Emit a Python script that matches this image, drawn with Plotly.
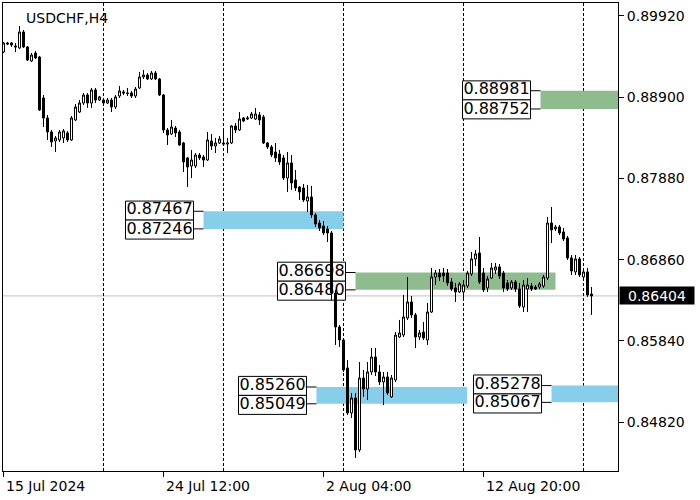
import plotly.graph_objects as go

# ---------------- data ----------------
bars = list(range(148))  # H4 bars, bar 0 = 15 Jul 2024

opens = [0.89468, 0.89581, 0.89581, 0.89543, 0.89518, 0.89719, 0.89531, 0.89355, 0.89455, 0.89405,
         0.88890, 0.88639, 0.88463, 0.88350, 0.88363, 0.88388, 0.88451, 0.88363, 0.88614, 0.88714,
         0.88827, 0.88928, 0.88827, 0.88991, 0.88865, 0.88865, 0.88827, 0.88865, 0.88777, 0.88915,
         0.88966, 0.88953, 0.88953, 0.88915, 0.89016, 0.89154, 0.89179, 0.89129, 0.89204, 0.89129,
         0.88928, 0.88488, 0.88438, 0.88513, 0.88463, 0.88325, 0.88137, 0.88036, 0.88036, 0.88174,
         0.88149, 0.88111, 0.88350, 0.88287, 0.88325, 0.88325, 0.88312, 0.88325, 0.88538, 0.88488,
         0.88639, 0.88626, 0.88639, 0.88626, 0.88677, 0.88652, 0.88325, 0.88275, 0.88212, 0.88187,
         0.88137, 0.87885, 0.88074, 0.87860, 0.87772, 0.87760, 0.87596, 0.87647, 0.87421, 0.87320,
         0.87282, 0.87245, 0.87195, 0.86441, 0.86014, 0.85851, 0.85499, 0.84934, 0.85122, 0.84469,
         0.85373, 0.85235, 0.85449, 0.85637, 0.85449, 0.85323, 0.85386, 0.85135, 0.85348, 0.85888,
         0.85913, 0.86127, 0.86328, 0.86165, 0.85888, 0.85951, 0.85851, 0.86202, 0.86642, 0.86692,
         0.86692, 0.86692, 0.86579, 0.86504, 0.86454, 0.86454, 0.86529, 0.86680, 0.86868, 0.86943,
         0.86692, 0.86504, 0.86629, 0.86730, 0.86768, 0.86692, 0.86567, 0.86504, 0.86579, 0.86491,
         0.86265, 0.86491, 0.86529, 0.86516, 0.86516, 0.86529, 0.86629, 0.87320, 0.87245, 0.87270,
         0.87207, 0.87132, 0.86881, 0.86705, 0.86868, 0.86642, 0.86705, 0.86428]

highs = [0.89594, 0.89594, 0.89594, 0.89581, 0.89794, 0.89744, 0.89543, 0.89455, 0.89480, 0.89418,
         0.88928, 0.88677, 0.88488, 0.88413, 0.88488, 0.88501, 0.88476, 0.88664, 0.88815, 0.88865,
         0.88953, 0.88953, 0.89016, 0.89016, 0.88915, 0.88890, 0.88890, 0.88890, 0.88928, 0.89041,
         0.88991, 0.89016, 0.88978, 0.89028, 0.89217, 0.89242, 0.89204, 0.89229, 0.89229, 0.89141,
         0.88940, 0.88513, 0.88614, 0.88538, 0.88488, 0.88338, 0.88149, 0.88237, 0.88199, 0.88199,
         0.88174, 0.88463, 0.88438, 0.88388, 0.88413, 0.88513, 0.88388, 0.88551, 0.88576, 0.88714,
         0.88652, 0.88664, 0.88714, 0.88765, 0.88714, 0.88677, 0.88338, 0.88300, 0.88325, 0.88237,
         0.88174, 0.88212, 0.88174, 0.87986, 0.87785, 0.87810, 0.87797, 0.87785, 0.87446, 0.87358,
         0.87345, 0.87282, 0.87220, 0.86479, 0.86039, 0.85876, 0.85599, 0.85185, 0.85185, 0.85574,
         0.85474, 0.85574, 0.85750, 0.85750, 0.85537, 0.85449, 0.85449, 0.85411, 0.85951, 0.86102,
         0.86416, 0.86642, 0.86403, 0.86190, 0.85976, 0.86077, 0.86315, 0.86755, 0.86730, 0.86742,
         0.86755, 0.86742, 0.86629, 0.86567, 0.86579, 0.86604, 0.86717, 0.86956, 0.86981, 0.87144,
         0.86755, 0.86654, 0.86818, 0.86818, 0.86805, 0.86717, 0.86604, 0.86604, 0.86604, 0.86567,
         0.86604, 0.86629, 0.86567, 0.86541, 0.86579, 0.86667, 0.87396, 0.87521, 0.87295, 0.87295,
         0.87257, 0.87157, 0.86918, 0.86918, 0.86893, 0.86755, 0.86755, 0.86516]

lows = [0.89455, 0.89556, 0.89531, 0.89468, 0.89506, 0.89518, 0.89355, 0.89342, 0.89380, 0.88727,
        0.88526, 0.88363, 0.88275, 0.88212, 0.88338, 0.88325, 0.88338, 0.88350, 0.88601, 0.88702,
        0.88802, 0.88765, 0.88765, 0.88827, 0.88852, 0.88790, 0.88815, 0.88714, 0.88752, 0.88890,
        0.88928, 0.88915, 0.88890, 0.88890, 0.89003, 0.89129, 0.89116, 0.89116, 0.89116, 0.88915,
        0.88451, 0.88300, 0.88425, 0.88400, 0.88287, 0.87961, 0.87772, 0.87885, 0.88011, 0.88111,
        0.88024, 0.88099, 0.88237, 0.88199, 0.88312, 0.88300, 0.88199, 0.88312, 0.88451, 0.88476,
        0.88589, 0.88614, 0.88626, 0.88614, 0.88551, 0.88312, 0.88250, 0.88149, 0.88086, 0.88049,
        0.87860, 0.87710, 0.87735, 0.87722, 0.87609, 0.87584, 0.87458, 0.87383, 0.87270, 0.87220,
        0.87169, 0.87082, 0.86353, 0.85788, 0.85763, 0.85449, 0.84909, 0.84871, 0.84369, 0.84444,
        0.85135, 0.85097, 0.85411, 0.85398, 0.85285, 0.85034, 0.85160, 0.85122, 0.85323, 0.85876,
        0.85888, 0.86102, 0.86127, 0.85750, 0.85851, 0.85851, 0.85788, 0.86190, 0.86541, 0.86592,
        0.86579, 0.86529, 0.86466, 0.86328, 0.86441, 0.86378, 0.86504, 0.86654, 0.86780, 0.86554,
        0.86454, 0.86454, 0.86617, 0.86680, 0.86617, 0.86454, 0.86466, 0.86479, 0.86454, 0.86253,
        0.86202, 0.86202, 0.86466, 0.86479, 0.86491, 0.86504, 0.86604, 0.87069, 0.87220, 0.87169,
        0.87094, 0.86855, 0.86667, 0.86667, 0.86642, 0.86604, 0.86391, 0.86165]

closes = [0.89581, 0.89568, 0.89556, 0.89531, 0.89719, 0.89531, 0.89367, 0.89430, 0.89393, 0.88739,
          0.88639, 0.88463, 0.88338, 0.88388, 0.88463, 0.88476, 0.88363, 0.88639, 0.88777, 0.88827,
          0.88928, 0.88827, 0.88991, 0.88865, 0.88903, 0.88827, 0.88865, 0.88777, 0.88903, 0.88978,
          0.88953, 0.88947, 0.88915, 0.89003, 0.89154, 0.89179, 0.89129, 0.89204, 0.89129, 0.88928,
          0.88488, 0.88425, 0.88526, 0.88451, 0.88300, 0.88086, 0.88024, 0.88111, 0.88174, 0.88137,
          0.88111, 0.88363, 0.88287, 0.88325, 0.88375, 0.88312, 0.88325, 0.88538, 0.88488, 0.88626,
          0.88601, 0.88639, 0.88689, 0.88689, 0.88614, 0.88325, 0.88275, 0.88174, 0.88137, 0.88086,
          0.87885, 0.88074, 0.87823, 0.87760, 0.87710, 0.87609, 0.87647, 0.87421, 0.87308, 0.87257,
          0.87195, 0.87195, 0.86441, 0.86014, 0.85851, 0.85474, 0.84934, 0.85122, 0.84469, 0.85373,
          0.85235, 0.85449, 0.85637, 0.85449, 0.85323, 0.85386, 0.85185, 0.85373, 0.85913, 0.85939,
          0.86140, 0.86328, 0.86165, 0.85888, 0.85939, 0.85876, 0.86202, 0.86642, 0.86692, 0.86642,
          0.86654, 0.86567, 0.86491, 0.86454, 0.86554, 0.86541, 0.86692, 0.86868, 0.86931, 0.86579,
          0.86479, 0.86617, 0.86755, 0.86768, 0.86654, 0.86504, 0.86491, 0.86579, 0.86491, 0.86278,
          0.86541, 0.86541, 0.86491, 0.86491, 0.86554, 0.86642, 0.87320, 0.87232, 0.87270, 0.87195,
          0.87119, 0.86881, 0.86717, 0.86868, 0.86667, 0.86705, 0.86416, 0.86404]

# x-axis labels (bar index -> text)
tick_bars = [0, 40, 80, 120]
tick_labels = ["15 Jul 2024", "24 Jul 12:00", "2 Aug 04:00", "12 Aug 20:00"]
# weekly period separators (bar index of Monday 00:00)
separator_bars = [25, 55, 85, 115, 145]

# y-axis ticks
price_ticks = [0.89920, 0.88900, 0.87880, 0.86860, 0.85840, 0.84820]

# supply / demand zones
zone_high = [0.88981, 0.87467, 0.86698, 0.85260, 0.85278]
zone_low = [0.88752, 0.87246, 0.86480, 0.85049, 0.85067]
zone_start = [134.25, 50.0, 88.0, 78.25, 137.0]
zone_end = [153.75, 85.0, 138.0, 115.9, 153.75]
zone_kind = ["supply", "demand", "supply", "demand", "demand"]

symbol_title = "USDCHF,H4"
last_price = closes[-1]

# ---------------- styling ----------------
FONT = "DejaVu Sans"
ZONE_COLORS = {"supply": "#8fbc8f", "demand": "#87ceeb"}
X_RANGE = [-0.125, 153.625]
Y_RANGE = [0.84205, 0.90083]
PX_PER_BAR = 4.0          # 615 px plot width / 153.75 bars
PRICE_PER_PX = (Y_RANGE[1] - Y_RANGE[0]) / 468.0
GAP_PX, BOX_W, BOX_H = 10, 68, 19

shapes = []
annotations = []

# zones
for hi, lo, x0, x1, kind in zip(zone_high, zone_low, zone_start, zone_end, zone_kind):
    shapes.append(dict(type="rect", xref="x", yref="y", x0=x0, x1=x1, y0=lo, y1=hi,
                       fillcolor=ZONE_COLORS[kind], line=dict(width=0), layer="below"))

# current price line
shapes.append(dict(type="line", xref="paper", yref="y", x0=0, x1=1, y0=last_price, y1=last_price,
                   line=dict(color="#c0c0c0", width=1), layer="below"))

# label boxes + leader lines
lbl_x, lbl_y, lbl_t = [], [], []
for hi, lo, x0 in zip(zone_high, zone_low, zone_start):
    mid = (hi + lo) / 2
    for lvl, (py0, py1), nudge in ((hi, (0, BOX_H), 1.0), (lo, (-BOX_H, 0), -1.0)):
        shapes.append(dict(type="rect", xref="x", yref="y", xsizemode="pixel", ysizemode="pixel",
                           xanchor=x0, yanchor=mid, x0=-(GAP_PX + BOX_W), x1=-GAP_PX, y0=py0, y1=py1,
                           fillcolor="white", line=dict(color="black", width=1), layer="below"))
        shapes.append(dict(type="line", xref="x", yref="y", xsizemode="pixel", xanchor=x0,
                           x0=-GAP_PX, x1=0, y0=lvl, y1=lvl, line=dict(color="black", width=1),
                           layer="below"))
        lbl_x.append(x0 - (GAP_PX + BOX_W / 2) / PX_PER_BAR)
        lbl_y.append(lvl + nudge * PRICE_PER_PX)
        lbl_t.append(f"{lvl:.5f}")

# weekly separators (drawn over zones and boxes, below candles)
for s in separator_bars:
    shapes.append(dict(type="line", xref="x", yref="paper", x0=s, x1=s, y0=0, y1=1,
                       line=dict(color="black", width=1, dash="3px,2px"), layer="below"))

fig = go.Figure()
fig.add_trace(go.Scatter(x=lbl_x, y=lbl_y, text=lbl_t, mode="text", textposition="middle center",
                         textfont=dict(family=FONT, size=16, color="black"), hoverinfo="skip"))
fig.add_trace(go.Candlestick(
    x=bars, open=opens, high=highs, low=lows, close=closes,
    increasing=dict(line=dict(color="black", width=1), fillcolor="white"),
    decreasing=dict(line=dict(color="black", width=1), fillcolor="black"),
    whiskerwidth=0, hoverinfo="skip"))

for tb, tl in zip(tick_bars, tick_labels):
    annotations.append(dict(x=tb, y=0, xref="x", yref="paper", xanchor="left", yanchor="top",
                            yshift=-5, xshift=0, text=tl, showarrow=False,
                            font=dict(family=FONT, size=14, color="black")))

annotations.append(dict(x=0, y=1, xref="paper", yref="paper", xanchor="left", yanchor="top",
                        xshift=21, yshift=-5, text=symbol_title, showarrow=False,
                        font=dict(family=FONT, size=14, color="black")))

annotations.append(dict(x=1, y=last_price, xref="paper", yref="y", xanchor="left", yanchor="middle",
                        xshift=1, text=f"{last_price:.5f}", showarrow=False, bgcolor="black",
                        borderpad=0, width=74, height=17, align="center",
                        font=dict(family=FONT, size=14, color="white")))

fig.update_layout(
    width=700, height=500,
    margin=dict(l=3, r=82, t=3, b=29),
    paper_bgcolor="white", plot_bgcolor="white",
    showlegend=False, hovermode=False,
    boxgap=0.5, boxgroupgap=0,
    shapes=shapes, annotations=annotations,
    xaxis=dict(range=X_RANGE, showgrid=False, zeroline=False, showline=True, mirror=True,
               linecolor="black", linewidth=1, ticks="outside", ticklen=5, tickcolor="black",
               tickvals=tick_bars, showticklabels=False, rangeslider=dict(visible=False),
               fixedrange=True),
    yaxis=dict(range=Y_RANGE, side="right", showgrid=False, zeroline=False, showline=True,
               mirror=True, linecolor="black", linewidth=1, ticks="outside", ticklen=5,
               tickcolor="black", tickvals=price_ticks,
               ticktext=[f"{p:.5f}" for p in price_ticks],
               tickfont=dict(family=FONT, size=14, color="black"), fixedrange=True),
)

fig.write_html("out.html", config={"displayModeBar": False},
               post_script="document.body.style.margin='0px';")
